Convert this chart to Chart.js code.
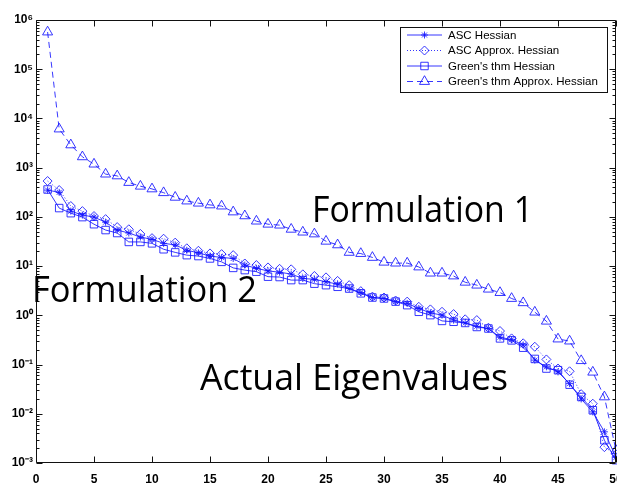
<!DOCTYPE html>
<html><head><meta charset="utf-8">
<script src="https://cdn.jsdelivr.net/npm/chart.js@4/dist/chart.umd.min.js"></script>
<style>html,body{margin:0;padding:0;background:#fff;overflow:hidden;}#wrap{width:617px;height:488px;position:relative;overflow:hidden;}</style>
</head><body><div id="wrap"><canvas id="c" width="625" height="488"></canvas></div>
<script>
const index = [1,2,3,4,5,6,7,8,9,10,11,12,13,14,15,16,17,18,19,20,21,22,23,24,25,26,27,28,29,30,31,32,33,34,35,36,37,38,39,40,41,42,43,44,45,46,47,48,49,50];
const ascHessian = [350,315,131,109,99,78,54,47,39,35,29,27,21,18.6,16,15,14.3,10.5,9.0,8.0,7.5,6.9,5.6,5.4,4.8,4.3,3.5,2.9,2.3,2.2,1.9,1.75,1.38,1.12,1.01,0.80,0.70,0.60,0.54,0.36,0.32,0.25,0.123,0.09,0.071,0.041,0.020,0.0109,0.0043,0.0013];
const ascApproxHessian = [535,351,166,131,104,90,62,56,45,37,36,30,23,20.5,18.1,17.5,16.7,11.3,10.5,9.4,8.8,8.6,6.8,6.3,5.9,5.0,4.1,3.1,2.4,2.3,2.0,1.9,1.49,1.32,1.18,1.06,0.83,0.80,0.56,0.48,0.34,0.27,0.23,0.127,0.083,0.073,0.025,0.016,0.0021,0.0015];
const greensHessian = [360,151,119,99,71,54,47,31,31,29,22,19,16.7,16,14.3,12.2,9.2,8.3,7.7,6.1,6.0,5.2,5.2,4.4,4.1,3.8,3.5,2.8,2.3,2.2,1.9,1.61,1.18,1.01,0.77,0.74,0.70,0.58,0.54,0.34,0.31,0.22,0.13,0.083,0.077,0.039,0.022,0.0118,0.0029,0.00114];
const greensApproxHessian = [570000,6100,2900,1660,1180,740,680,500,420,370,310,250,210,190,175,166,126,105,82,71,68,56,49,45,32,27,19,18,15,12,11.5,11.5,9.6,7.2,7.2,6.3,4.7,4.1,3.4,2.9,2.2,1.8,1.16,0.76,0.33,0.30,0.12,0.070,0.022,0.0018];
const seriesNames = ["ASC Hessian","ASC Approx. Hessian","Green's thm Hessian","Green's thm Approx. Hessian"];
const xTickValues = [0,5,10,15,20,25,30,35,40,45,50];
const xTickLabels = ["0","5","10","15","20","25","30","35","40","45","50"];
const yTickValues = [1e-3,1e-2,1e-1,1e0,1e1,1e2,1e3,1e4,1e5,1e6];
const yTickLabels = ["10\u207B\u00B3","10\u207B\u00B2","10\u207B\u00B9","10\u2070","10\u00B9","10\u00B2","10\u00B3","10\u2074","10\u2075","10\u2076"];
const annotationTexts = ["Formulation 1","Formulation 2","Actual Eigenvalues"];

const BLUE = 'rgba(20,20,255,0.85)';
function pts(arr){ return arr.map((v,i)=>({x:index[i], y:v})); }

const frame = {
  id:'frame',
  afterDraw(chart){
    const ctx = chart.ctx, a = chart.chartArea;
    const xs = chart.scales.x, ys = chart.scales.y;
    const L = Math.round(a.left)+0.5, R = Math.round(a.right)-0.5, T = Math.round(a.top)+0.5, B = Math.round(a.bottom)-0.5;
    ctx.save();
    ctx.strokeStyle = '#111'; ctx.lineWidth = 1;
    ctx.beginPath();
    ctx.rect(L, T, R-L, B-T);
    xTickValues.forEach(v=>{
      const px = Math.round(xs.getPixelForValue(v))+0.5;
      ctx.moveTo(px, B); ctx.lineTo(px, B-6);
      ctx.moveTo(px, T); ctx.lineTo(px, T+6);
    });
    yTickValues.forEach((v,k)=>{
      const py = Math.round(ys.getPixelForValue(v))+0.5;
      ctx.moveTo(L, py); ctx.lineTo(L+6, py);
      ctx.moveTo(R, py); ctx.lineTo(R-6, py);
      if (k < yTickValues.length-1) {
        for (let m=2; m<=9; m++){
          const pm = Math.round(ys.getPixelForValue(v*m))+0.5;
          ctx.moveTo(L, pm); ctx.lineTo(L+3, pm);
          ctx.moveTo(R, pm); ctx.lineTo(R-3, pm);
        }
      }
    });
    ctx.stroke();
    ctx.restore();
  }
};

const overlay = {
  id:'overlay',
  afterDraw(chart, args, opts){
    const ctx = chart.ctx;
    ctx.save();
    ctx.fillStyle = '#000';
    ctx.textBaseline = 'alphabetic';
    ctx.font = opts.font;
    opts.items.forEach(it=>{
      const w = ctx.measureText(it.text).width;
      ctx.save();
      ctx.translate(it.x, it.y);
      ctx.scale(it.w / w, 1);
      ctx.fillText(it.text, 0, 0);
      ctx.restore();
    });
    ctx.restore();
  }
};

const legendBox = {
  id:'legendBox',
  afterDraw(chart, args, o){
    const ctx = chart.ctx;
    ctx.save();
    ctx.fillStyle = '#fff';
    ctx.fillRect(o.x, o.y, o.w, o.h);
    ctx.strokeStyle = '#111'; ctx.lineWidth = 1;
    ctx.strokeRect(o.x+0.5, o.y+0.5, o.w, o.h);
    chart.data.datasets.forEach((ds,i)=>{
      const yy = o.y + o.row0 + i*o.rowH;
      ctx.save();
      ctx.strokeStyle = ds.borderColor; ctx.lineWidth = ds.borderWidth;
      ctx.setLineDash(ds.borderDash || []);
      ctx.beginPath(); ctx.moveTo(o.x+o.lineX0, yy); ctx.lineTo(o.x+o.lineX1, yy); ctx.stroke();
      ctx.setLineDash([]);
      ctx.fillStyle = 'rgba(255,255,255,0)';
      const mx = o.x + (o.lineX0+o.lineX1)/2;
      Chart.helpers.drawPoint(ctx, {pointStyle: ds.pointStyle, radius: ds.pointRadius, borderWidth: 1, rotation: 0}, mx, yy);
      ctx.restore();
      ctx.fillStyle = '#000';
      ctx.font = o.font;
      ctx.textBaseline = 'middle';
      ctx.fillText(ds.label, o.x + o.textX, yy+0.5);
    });
    ctx.restore();
  }
};

const common = {borderColor: BLUE, pointBorderColor: BLUE, pointBackgroundColor: 'rgba(255,255,255,0)', borderWidth: 1, pointBorderWidth: 1, tension: 0, clip: false};

new Chart(document.getElementById('c'), {
  type: 'line',
  data: {
    datasets: [
      Object.assign({label: seriesNames[0], data: pts(ascHessian), pointStyle: 'star', pointRadius: 3.5, borderDash: []}, common),
      Object.assign({label: seriesNames[1], data: pts(ascApproxHessian), pointStyle: 'rectRot', pointRadius: 4.5, borderDash: [1,2]}, common),
      Object.assign({label: seriesNames[2], data: pts(greensHessian), pointStyle: 'rect', pointRadius: 5.3, borderDash: []}, common),
      Object.assign({label: seriesNames[3], data: pts(greensApproxHessian), pointStyle: 'triangle', pointRadius: 5.8, borderDash: [6,4]}, common)
    ]
  },
  options: {
    responsive: false,
    animation: false,
    devicePixelRatio: 1,
    layout: {padding: {left: 0, top: 20, right: 9, bottom: 0}},
    plugins: {
      legend: {display: false},
      tooltip: {enabled: false},
      overlay: {
        font: '37px "Open Sans"',
        items: [
          {text: annotationTexts[0], x: 312, y: 222, w: 221},
          {text: annotationTexts[1], x: 32, y: 302, w: 225},
          {text: annotationTexts[2], x: 200, y: 390, w: 308}
        ]
      },
      legendBox: {x: 400, y: 27, w: 207, h: 65, row0: 8, rowH: 15.5, lineX0: 7, lineX1: 42, textX: 48, font: '11.5px "Liberation Sans"'}
    },
    scales: {
      x: {
        type: 'linear', min: 0, max: 50,
        grid: {display: false, drawTicks: false},
        border: {display: false},
        afterBuildTicks: s => { s.ticks = xTickValues.map(v=>({value:v})); },
        afterFit: s => { s.height = 25; s.paddingLeft = 0; s.paddingRight = 0; },
        ticks: {
          autoSkip: false, maxRotation: 0, padding: 9, color: '#000',
          font: {family: '"Liberation Sans"', size: 12, weight: 'bold'},
          callback: v => { const i = xTickValues.indexOf(v); return i >= 0 ? xTickLabels[i] : ''; }
        }
      },
      y: {
        type: 'logarithmic', min: 1e-3, max: 1e6,
        grid: {display: false, drawTicks: false},
        border: {display: false},
        afterBuildTicks: s => { s.ticks = yTickValues.map(v=>({value:v})); },
        afterFit: s => { s.width = 36; s.paddingTop = 0; s.paddingBottom = 0; },
        ticks: {
          autoSkip: false, padding: 3, color: '#000',
          font: {family: '"Liberation Sans"', size: 12, weight: 'bold'},
          callback: v => { const i = yTickValues.indexOf(v); return i >= 0 ? yTickLabels[i] : ''; }
        }
      }
    }
  },
  plugins: [frame, legendBox, overlay]
});
</script>
</body></html>
